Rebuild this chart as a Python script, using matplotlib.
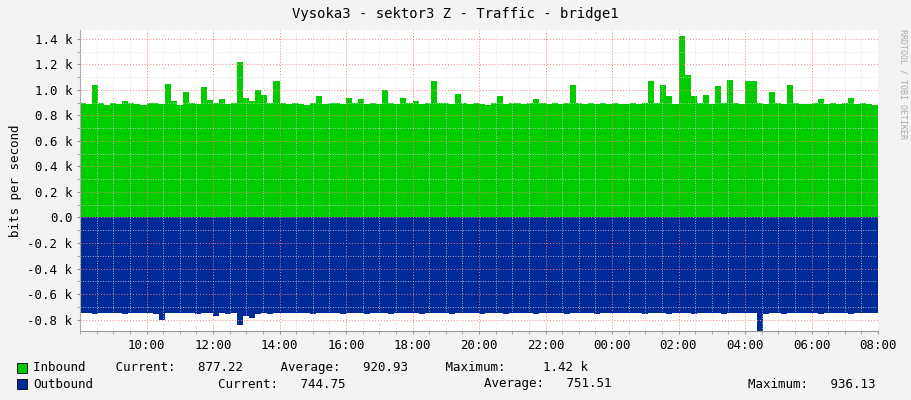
import matplotlib
matplotlib.use("Agg")
import matplotlib.pyplot as plt
import numpy as np

# hours since 08:00, 10-minute samples
inbound = [
 0.90,0.89,1.04,0.90,0.88,0.90, 0.89,0.91,0.90,0.89,0.88,0.90,
 0.90,0.89,1.05,0.91,0.88,0.98, 0.90,0.89,1.02,0.92,0.90,0.93,
 0.89,0.90,1.22,0.94,0.91,1.00, 0.96,0.90,1.07,0.90,0.89,0.90,
 0.89,0.88,0.90,0.95,0.89,0.90, 0.90,0.89,0.94,0.90,0.93,0.89,
 0.90,0.89,1.00,0.90,0.89,0.94, 0.90,0.91,0.89,0.90,1.07,0.90,
 0.90,0.89,0.97,0.90,0.89,0.90, 0.89,0.88,0.90,0.95,0.89,0.90,
 0.90,0.89,0.90,0.93,0.90,0.89, 0.90,0.89,0.90,1.04,0.90,0.89,
 0.90,0.89,0.90,0.89,0.90,0.89, 0.89,0.90,0.89,0.90,1.07,0.90,
 1.04,0.95,0.89,1.42,1.12,0.95, 0.90,0.96,0.89,1.03,0.90,1.08,
 0.90,0.89,1.07,1.07,0.90,0.89, 0.98,0.90,0.89,1.04,0.90,0.89,
 0.89,0.90,0.93,0.89,0.90,0.89, 0.90,0.94,0.89,0.90,0.89,0.88,
]
outbound = [
 -0.75,-0.75,-0.76,-0.75,-0.75,-0.75, -0.75,-0.76,-0.75,-0.75,-0.75,-0.75,
 -0.76,-0.80,-0.75,-0.75,-0.75,-0.75, -0.75,-0.76,-0.75,-0.75,-0.77,-0.75,
 -0.76,-0.75,-0.84,-0.77,-0.79,-0.76, -0.75,-0.76,-0.75,-0.75,-0.75,-0.75,
 -0.75,-0.75,-0.76,-0.75,-0.75,-0.75, -0.75,-0.76,-0.75,-0.75,-0.75,-0.76,
 -0.75,-0.75,-0.75,-0.76,-0.75,-0.75, -0.75,-0.75,-0.76,-0.75,-0.75,-0.75,
 -0.75,-0.76,-0.75,-0.75,-0.75,-0.75, -0.76,-0.75,-0.75,-0.75,-0.76,-0.75,
 -0.75,-0.75,-0.75,-0.76,-0.75,-0.75, -0.75,-0.75,-0.76,-0.75,-0.75,-0.75,
 -0.75,-0.76,-0.75,-0.75,-0.75,-0.75, -0.75,-0.75,-0.75,-0.76,-0.75,-0.75,
 -0.75,-0.76,-0.75,-0.75,-0.75,-0.76, -0.75,-0.75,-0.75,-0.75,-0.76,-0.75,
 -0.75,-0.75,-0.75,-0.75,-0.93,-0.76, -0.75,-0.75,-0.76,-0.75,-0.75,-0.75,
 -0.75,-0.75,-0.76,-0.75,-0.75,-0.75, -0.75,-0.76,-0.75,-0.75,-0.75,-0.75,
]
tick_labels = ["10:00","12:00","14:00","16:00","18:00","20:00","22:00",
               "00:00","02:00","04:00","06:00","08:00"]
y_labels = ["-0.8 k","-0.6 k","-0.4 k","-0.2 k","0.0","0.2 k","0.4 k",
            "0.6 k","0.8 k","1.0 k","1.2 k","1.4 k"]

n = len(inbound)
x = np.linspace(0, 24, n + 1)
inb = np.append(inbound, inbound[-1])
outb = np.append(outbound, outbound[-1])

plt.rcParams['font.family'] = ['DejaVu Sans Mono']
fig = plt.figure(figsize=(9.11, 4.0), dpi=100, facecolor='#F3F3F3')
ax = fig.add_axes([80/911, 1-331/400, 798/911, 301/400])
ax.set_facecolor('white')
ax.fill_between(x, 0, inb, step='post', color='#00CC00', lw=0)
ax.fill_between(x, 0, outb, step='post', color='#002A97', lw=0)
ax.set_xlim(0, 24)
ax.set_ylim(-0.89, 1.47)

ax.set_xticks(np.arange(2, 25, 2))
ax.set_xticklabels(tick_labels, fontsize=9)
ax.set_xticks(np.arange(0, 24.01, 0.5), minor=True)
ax.set_yticks(np.arange(-0.8, 1.41, 0.2))
ax.set_yticklabels(y_labels, fontsize=9)
ax.set_yticks(np.arange(-0.8, 1.41, 0.1), minor=True)
ax.grid(which='minor', color='#DDDDDD', ls=(0, (1, 2)), lw=0.6)
ax.grid(axis='x', which='major', color='#F08080', ls=(0, (1, 2)), lw=0.7)
ax.grid(axis='y', which='major', color='#F08080', ls=(0, (1, 2)), lw=0.7)
ax.set_axisbelow(False)
ax.tick_params(which='both', length=2, color='#999999')
for s in ['top', 'right']:
    ax.spines[s].set_visible(False)
ax.spines['left'].set_color('#999999')
ax.spines['bottom'].set_color('#999999')
ax.set_ylabel('bits per second', fontsize=9)

fig.text(0.5, 1-14/400, 'Vysoka3 - sektor3 Z - Traffic - bridge1', ha='center', va='center', fontsize=10)
fig.text(903/911, 0.79, 'RRDTOOL / TOBI OETIKER', rotation=270, fontsize=6, color='#AAAAAA', ha='center', va='center')

def sq(xp, yp, c):
    fig.patches.append(plt.Rectangle((xp/911, 1-yp/400 - 5/400), 10/911, 10/400,
                                     transform=fig.transFigure, facecolor=c, edgecolor='black', lw=0.6))
sq(17, 368, '#00CC00')
sq(17, 384, '#002A97')
fig.text(33/911, 1-368/400, 'Inbound    Current:   877.22     Average:   920.93     Maximum:     1.42 k', fontsize=9, va='center')
fig.text(33/911, 1-384/400, 'Outbound', fontsize=9, va='center')
fig.text(218/911, 1-384/400, 'Current:   744.75', fontsize=9, va='center')
fig.text(484/911, 1-384/400, 'Average:   751.51', fontsize=9, va='center')
fig.text(748/911, 1-384/400, 'Maximum:   936.13', fontsize=9, va='center')

fig.savefig('out.png', dpi=100, facecolor=fig.get_facecolor())
